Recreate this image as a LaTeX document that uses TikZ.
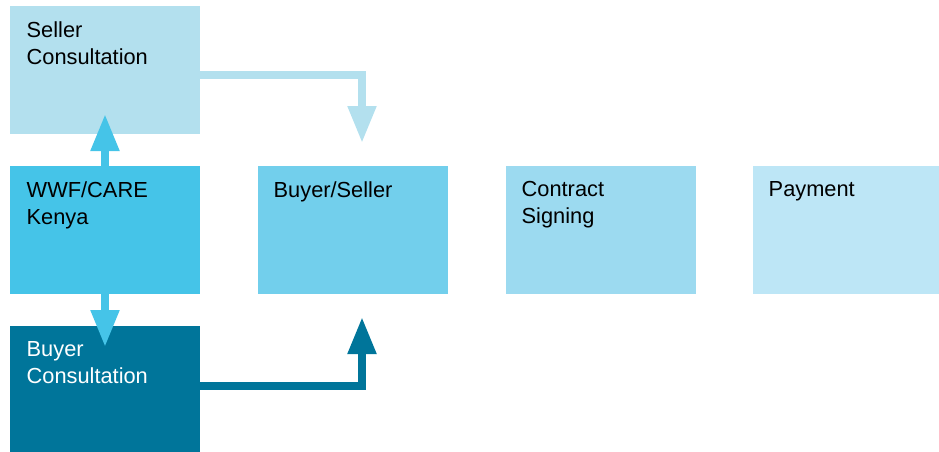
\documentclass[tikz,border=0pt]{standalone}
\usepackage{fontspec}
\setmainfont{Liberation Sans}
\usetikzlibrary{arrows.meta}
\definecolor{cSeller}{HTML}{B3E0EE}
\definecolor{cWWF}{HTML}{45C4E8}
\definecolor{cBS}{HTML}{72CFEC}
\definecolor{cCS}{HTML}{9CDAF0}
\definecolor{cPay}{HTML}{BDE6F6}
\definecolor{cBuyer}{HTML}{00759A}
\tikzset{
  box/.style={draw=none, rectangle, inner sep=0pt, minimum width=190pt, minimum height=128pt},
  boxtext/.style={anchor=north west, inner sep=0pt, align=left, font=\fontsize{21.8}{26.8}\selectfont},
  flow/.style={line width=8pt, line join=miter, -{Triangle[width=27pt,length=37pt]}},
}
\begin{document}
\begin{tikzpicture}[x=1pt,y=-1pt]
\useasboundingbox (0,0) rectangle (939,452);
\node[box, fill=cSeller, anchor=north west] (seller) at (10,6) {};
\node[box, fill=cWWF, anchor=north west] (wwf) at (10,166) {};
\node[box, fill=cBuyer, anchor=north west, minimum height=126pt] (buyer) at (10,326) {};
\node[box, fill=cBS, anchor=north west] (bs) at (258,166) {};
\node[box, fill=cCS, anchor=north west] (cs) at (506,166) {};
\node[box, fill=cPay, anchor=north west, minimum width=186pt] (pay) at (753,166) {};

\node[boxtext] (tseller) at (26.5,21.5) {Seller\\Consultation};
\node[boxtext] (twwf) at (26.5,181.5) {WWF/CARE\\Kenya};
\node[boxtext, text=white] (tbuyer) at (26.5,341.5) {Buyer\\Consultation};
\node[boxtext] (tbs) at (273.5,181.5) {Buyer/Seller};
\node[boxtext] (tcs) at (521.5,181.5) {Contract\\Signing};
\node[boxtext] (tpay) at (768.5,181.5) {Payment};

\coordinate (upend) at (105,114);
\coordinate (downend) at (105,347);
\coordinate (sellstart) at (200,75);
\coordinate (sellend) at (362,143);
\coordinate (buystart) at (200,386);
\coordinate (buyend) at (362,317);

\draw[flow, cWWF] (wwf.north -| upend) -- (upend);
\draw[flow, cWWF] (wwf.south -| downend) -- (downend);
\draw[flow, cSeller] (sellstart) -| (sellend);
\draw[flow, cBuyer] (buystart) -| (buyend);
\end{tikzpicture}
\end{document}
